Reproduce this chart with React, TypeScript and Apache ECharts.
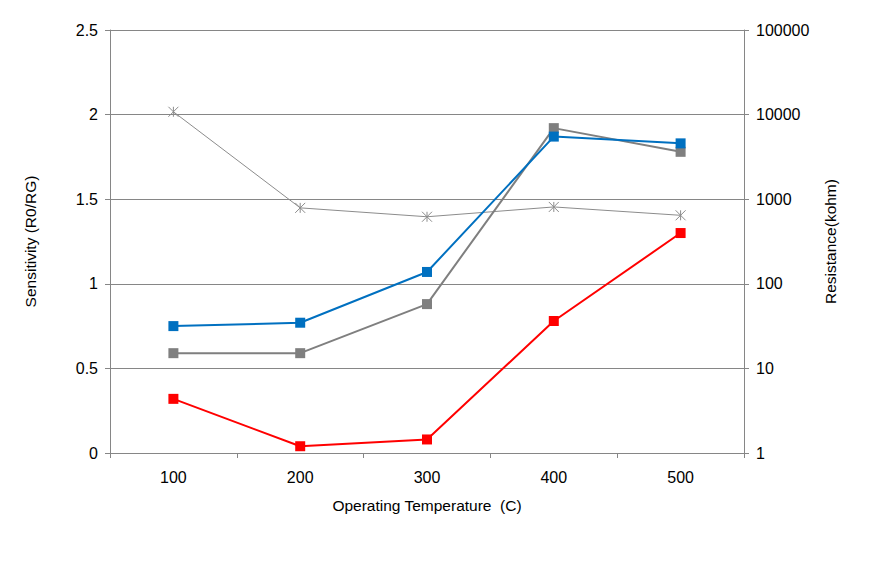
import React, { useEffect, useRef } from "react";
import * as echarts from "echarts";

const categories = ["100", "200", "300", "400", "500"];
const blueSeries = [0.75, 0.77, 1.07, 1.87, 1.83];
const graySeries = [0.59, 0.59, 0.88, 1.92, 1.78];
const redSeries = [0.32, 0.04, 0.08, 0.78, 1.3];
const resistanceSeries = [10800, 790, 620, 810, 645];

const FONT = "Liberation Sans, Arial, sans-serif";
const AXIS_COLOR = "#868686";

export default function App() {
  const ref = useRef<HTMLDivElement>(null);
  useEffect(() => {
    if (!ref.current) return;
    const chart = echarts.init(ref.current, null, { renderer: "svg" });
    const textStyle = { fontFamily: FONT, fontSize: 16, color: "#000" };
    const nameStyle = { fontFamily: FONT, fontSize: 15.5, color: "#000" };
    chart.setOption({
      animation: false,
      backgroundColor: "#fff",
      grid: { left: 110, right: 127, top: 30, bottom: 116 },
      xAxis: {
        type: "category",
        data: categories,
        boundaryGap: true,
        name: "Operating Temperature  (C)",
        nameLocation: "middle",
        nameGap: 44,
        nameTextStyle: { ...nameStyle },
        axisLine: { lineStyle: { color: AXIS_COLOR } },
        axisTick: { show: true, length: 5, lineStyle: { color: AXIS_COLOR } },
        axisLabel: { ...textStyle, margin: 16 },
        splitLine: { show: false },
      },
      yAxis: [
        {
          type: "value",
          min: 0,
          max: 2.5,
          interval: 0.5,
          name: "Sensitivity (R0/RG)",
          nameLocation: "middle",
          nameGap: 72,
          nameTextStyle: { ...nameStyle },
          axisLine: { show: true, lineStyle: { color: AXIS_COLOR } },
          axisTick: { show: true, length: 5, lineStyle: { color: AXIS_COLOR } },
          axisLabel: { ...textStyle, margin: 12 },
          splitLine: { show: true, lineStyle: { color: AXIS_COLOR, width: 1 } },
        },
        {
          type: "log",
          logBase: 10,
          min: 1,
          max: 100000,
          position: "right",
          name: "Resistance(kohm)",
          nameLocation: "middle",
          nameGap: 78,
          nameTextStyle: { ...nameStyle },
          axisLine: { show: true, lineStyle: { color: AXIS_COLOR } },
          axisTick: { show: true, length: 5, lineStyle: { color: AXIS_COLOR } },
          axisLabel: { ...textStyle, margin: 12, formatter: (v: number) => String(Math.round(v)) },
          splitLine: { show: false },
        },
      ],
      series: [
        {
          name: "Resistance",
          type: "line",
          yAxisIndex: 1,
          data: resistanceSeries,
          symbol: "path://M0,0L10,10M10,0L0,10M5,0L5,10",
          symbolSize: 10,
          lineStyle: { color: "#8c8c8c", width: 1 },
          itemStyle: { color: "rgba(0,0,0,0)", borderColor: "#8c8c8c", borderWidth: 1 },
          z: 1,
        },
        {
          name: "Gray",
          type: "line",
          data: graySeries,
          symbol: "rect",
          symbolSize: 10,
          lineStyle: { color: "#7f7f7f", width: 2 },
          itemStyle: { color: "#7f7f7f" },
          z: 2,
        },
        {
          name: "Blue",
          type: "line",
          data: blueSeries,
          symbol: "rect",
          symbolSize: 10,
          lineStyle: { color: "#0070c0", width: 2 },
          itemStyle: { color: "#0070c0" },
          z: 3,
        },
        {
          name: "Red",
          type: "line",
          data: redSeries,
          symbol: "rect",
          symbolSize: 10,
          lineStyle: { color: "#ff0000", width: 2 },
          itemStyle: { color: "#ff0000" },
          z: 4,
        },
      ],
    });
    return () => chart.dispose();
  }, []);
  return <div ref={ref} style={{ width: 871, height: 569, position: "absolute", left: 0, top: 0 }} />;
}
